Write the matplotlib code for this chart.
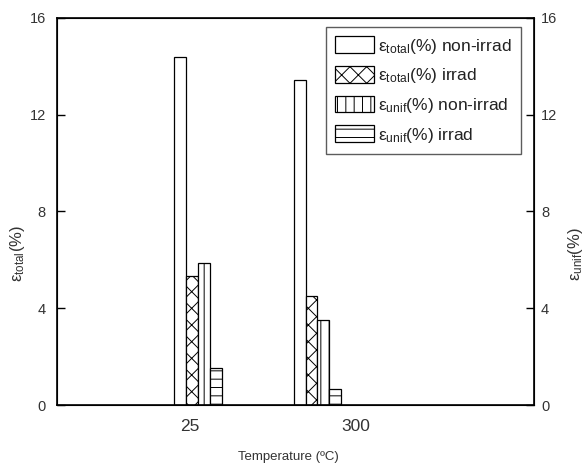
import matplotlib
matplotlib.use("Agg")
import matplotlib.pyplot as plt
import numpy as np

plt.rcParams['font.family'] = ['Liberation Sans', 'DejaVu Sans']
plt.rcParams['mathtext.default'] = 'regular'
plt.rcParams['hatch.linewidth'] = 0.7

# Data
categories = ['25', '300']
total_nonirrad = [14.4, 13.45]
total_irrad = [5.35, 4.5]
unif_nonirrad = [5.85, 3.5]
unif_irrad = [1.55, 0.65]
series_labels = [r'ε$_{total}$(%) non-irrad', r'ε$_{total}$(%) irrad',
                 r'ε$_{unif}$(%) non-irrad', r'ε$_{unif}$(%) irrad']

# layout
tick_pos = np.array([1.0, 2.0])
group_centers = np.array([1.048, 1.768])
bw = 0.072
hatches = ['', 'xx', '||', '--']
series = [total_nonirrad, total_irrad, unif_nonirrad, unif_irrad]

fig = plt.figure(figsize=(5.85, 4.66), dpi=100)
ax = fig.add_axes([0.0974, 0.1309, 0.8154, 0.8305])
txtc = '#333333'
for i, (vals, h, lab) in enumerate(zip(series, hatches, series_labels)):
    x = group_centers + (i - 1.5) * bw
    ax.bar(x, vals, width=bw, color='white', edgecolor='black', hatch=h,
           linewidth=0.9, label=lab)

ax.set_xlim(0.199, 3.072)
ax.set_ylim(0, 16)
ax.set_yticks([0, 4, 8, 12, 16])
ax.set_xticks(tick_pos)
ax.set_xticklabels(categories)
ax.tick_params(axis='x', length=0, pad=10, labelsize=12.5, labelcolor=txtc)
ax.tick_params(axis='y', direction='in', length=6, width=1, pad=8, labelsize=10.5, labelcolor=txtc)
for s in ax.spines.values():
    s.set_linewidth(1.2)

ax2 = ax.twinx()
ax2.set_ylim(0, 16)
ax2.set_yticks([0, 4, 8, 12, 16])
ax2.tick_params(axis='y', direction='in', length=6, width=1, pad=5, labelsize=10.5, labelcolor=txtc)

ax.set_ylabel(r'ε$_{total}$(%)', fontsize=12, color=txtc)
ax.yaxis.set_label_coords(-0.062, 0.39)
ax2.set_ylabel(r'ε$_{unif}$(%)', fontsize=12, color=txtc)
ax2.yaxis.set_label_coords(1.068, 0.39)
ax.set_xlabel('Temperature (ºC)', fontsize=9.5, color=txtc)
ax.xaxis.set_label_coords(0.485, -0.118)

leg = ax.legend(loc='upper right', bbox_to_anchor=(0.973, 0.977), fontsize=12.5,
                frameon=True, fancybox=False, edgecolor='#333333',
                handlelength=2.2, handleheight=1.1, labelspacing=0.6,
                borderpad=0.55, handletextpad=0.25, borderaxespad=0)
leg.get_frame().set_linewidth(1.0)
for t in leg.get_texts():
    t.set_color('#222222')

fig.savefig('out.png', dpi=100)
